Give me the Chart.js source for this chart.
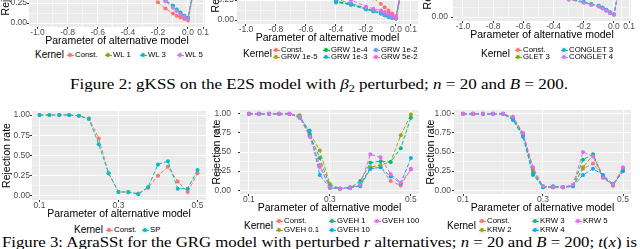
<!DOCTYPE html>
<html lang="en">
<head>
<meta charset="UTF-8">
<title>gKSS / AgraSSt rejection rates</title>
<script src="https://cdn.jsdelivr.net/npm/chart.js"></script>
<style>
  html, body { margin:0; padding:0; background:#fff; }
  body { width:640px; height:249px; position:relative; overflow:hidden; font-family:'Liberation Sans', Arial, sans-serif; }
  .panel { position:absolute; }
  .panel canvas { display:block; }
  .lg { position:absolute; white-space:nowrap; line-height:1; color:#000; }
  .lg-title { font-size:10px; }
  .lg-item { font-size:7.8px; }
  .key { position:absolute; width:7px; height:7px; background:#F2F2F2; }
  .key i { position:absolute; left:0; top:3px; width:7px; height:0; border-top:1px dashed; }
  .key b { position:absolute; left:1.5px; top:1.5px; width:4px; height:4px; border-radius:50%; }
  .cap { position:absolute; white-space:nowrap; font-family:'Liberation Serif', serif; font-size:14px; line-height:1; color:#000; transform-origin:0 50%; }
  .cap .sub { font-size:10px; vertical-align:-3px; }
</style>
</head>
<body>
<script>
// ---- data: Figure 2 (top, x = parameter of alternative model) ----
const xTop = [-1.0, -0.9, -0.8, -0.7, -0.6, -0.5, -0.4, -0.3, -0.2, -0.15, -0.1, -0.075, -0.05, -0.025, 0.0, 0.1];

const wlLabels = ['Const.', 'WL 1', 'WL 3', 'WL 5'];
const wlConst = [1, 1, 1, 1, 1, 0.98, 0.85, 0.45, 0.26, 0.18, 0.12, 0.09, 0.07, 0.05, 0.03, 1.0];
const wl1     = [1, 1, 1, 1, 1, 0.99, 0.92, 0.60, 0.38, 0.28, 0.21, 0.16, 0.12, 0.09, 0.06, 1.0];
const wl3     = [1, 1, 1, 1, 1, 0.99, 0.93, 0.62, 0.40, 0.29, 0.22, 0.17, 0.13, 0.09, 0.07, 1.0];
const wl5     = [1, 1, 1, 1, 1, 0.99, 0.90, 0.58, 0.36, 0.27, 0.19, 0.15, 0.11, 0.08, 0.05, 1.0];

const grwLabels = ['Const.', 'GRW 1e-5', 'GRW 1e-4', 'GRW 1e-3', 'GRW 1e-2', 'GRW 5e-2'];
const grwConst = [1, 1, 1, 1, 0.98, 0.85, 0.60, 0.48, 0.36, 0.27, 0.20, 0.16, 0.12, 0.08, 0.05, 1.0];
const grw1e5   = [1, 1, 1, 0.98, 0.90, 0.60, 0.24, 0.19, 0.14, 0.12, 0.09, 0.07, 0.05, 0.03, 0.02, 1.0];
const grw1e4   = [1, 1, 1, 0.98, 0.90, 0.60, 0.23, 0.20, 0.14, 0.11, 0.08, 0.06, 0.04, 0.03, 0.02, 1.0];
const grw1e3   = [1, 1, 1, 0.97, 0.88, 0.58, 0.22, 0.19, 0.13, 0.11, 0.08, 0.06, 0.04, 0.025, 0.02, 1.0];
const grw1e2   = [1, 1, 1, 0.98, 0.90, 0.62, 0.26, 0.21, 0.15, 0.12, 0.09, 0.07, 0.05, 0.03, 0.02, 1.0];
const grw5e2   = [1, 1, 1, 1, 0.97, 0.80, 0.38, 0.25, 0.17, 0.14, 0.12, 0.10, 0.08, 0.06, 0.03, 1.0];

const gletLabels = ['Const.', 'GLET 3', 'CONGLET 3', 'CONGLET 4'];
const gletConst = [1, 1, 1, 1, 0.99, 0.90, 0.45, 0.23, 0.18, 0.16, 0.14, 0.11, 0.08, 0.05, 0.03, 1.0];
const glet3     = [1, 1, 1, 1, 0.99, 0.90, 0.44, 0.22, 0.18, 0.16, 0.13, 0.11, 0.08, 0.05, 0.03, 1.0];
const conglet3  = [1, 1, 1, 1, 0.99, 0.89, 0.44, 0.23, 0.19, 0.16, 0.14, 0.12, 0.09, 0.06, 0.03, 1.0];
const conglet4  = [1, 1, 1, 1, 0.99, 0.89, 0.43, 0.22, 0.18, 0.15, 0.13, 0.11, 0.08, 0.05, 0.03, 1.0];

// ---- data: Figure 3 (bottom, x = r) ----
const xBot = [0.1, 0.125, 0.15, 0.175, 0.2, 0.225, 0.25, 0.275, 0.3, 0.325, 0.35, 0.375, 0.4, 0.425, 0.45, 0.475, 0.5];

const spLabels = ['Const.', 'SP'];
const spConst = [1, 1, 1, 1, 0.99, 0.96, 0.71, 0.28, 0.05, 0.045, 0.03, 0.10, 0.25, 0.36, 0.18, 0.05, 0.28];
const sp      = [1, 1, 1, 1, 0.99, 0.95, 0.64, 0.28, 0.05, 0.05, 0.02, 0.11, 0.39, 0.43, 0.09, 0.09, 0.32];

const gvehLabels = ['Const.', 'GVEH 0.1', 'GVEH 1', 'GVEH 10', 'GVEH 100'];
const gvehConst = [1, 1, 1, 1, 1, 0.96, 0.72, 0.33, 0.04, 0.02, 0.03, 0.07, 0.28, 0.30, 0.12, 0.06, 0.28];
const gveh01    = [1, 1, 1, 1, 1, 0.98, 0.75, 0.52, 0.08, 0.02, 0.03, 0.07, 0.30, 0.33, 0.37, 0.72, 0.99];
const gveh1     = [1, 1, 1, 1, 1, 0.96, 0.73, 0.42, 0.05, 0.02, 0.03, 0.12, 0.36, 0.38, 0.37, 0.55, 0.95];
const gveh10    = [1, 1, 1, 1, 1, 0.95, 0.78, 0.20, 0.03, 0.02, 0.04, 0.05, 0.28, 0.30, 0.18, 0.09, 0.42];
const gveh100   = [1, 1, 1, 1, 1, 0.96, 0.70, 0.30, 0.04, 0.02, 0.03, 0.07, 0.47, 0.43, 0.21, 0.10, 0.27];

const krwLabels = ['Const.', 'KRW 2', 'KRW 3', 'KRW 4', 'KRW 5'];
const krwConst = [1, 1, 1, 1, 1, 0.95, 0.74, 0.28, 0.04, 0.04, 0.04, 0.05, 0.28, 0.35, 0.18, 0.06, 0.28];
const krw2     = [1, 1, 1, 1, 1, 0.94, 0.73, 0.25, 0.04, 0.04, 0.04, 0.05, 0.30, 0.46, 0.17, 0.06, 0.26];
const krw3     = [1, 1, 1, 1, 1, 0.93, 0.72, 0.22, 0.05, 0.04, 0.04, 0.06, 0.40, 0.47, 0.18, 0.07, 0.25];
const krw4     = [1, 1, 1, 1, 1, 0.92, 0.70, 0.20, 0.04, 0.05, 0.04, 0.05, 0.20, 0.28, 0.20, 0.08, 0.25];
const krw5     = [1, 1, 1, 1, 1, 0.96, 0.75, 0.30, 0.05, 0.04, 0.04, 0.07, 0.50, 0.44, 0.16, 0.07, 0.30];

// ---- ticks ----
const xTicksTop  = [-1, -0.9, -0.8, -0.7, -0.6, -0.5, -0.4, -0.3, -0.2, -0.1, 0, 0.05, 0.1];
const xLabelsTop = ['-1.0', '', '-0.8', '', '-0.6', '', '-0.4', '', '-0.2', '', '0.0', '', '0.1'];
const xTicksBot  = [0.1, 0.2, 0.3, 0.4, 0.5];
const xLabelsBot = ['0.1', '', '0.3', '', '0.5'];
const yTicks  = [0, 0.125, 0.25, 0.375, 0.5, 0.625, 0.75, 0.875, 1];
const yLabels = ['0.00', '', '0.25', '', '0.50', '', '0.75', '', '1.00'];

// ggplot default hues
const hue2 = ['#F8766D', '#00BFC4'];
const hue4 = ['#F8766D', '#7CAE00', '#00BFC4', '#C77CFF'];
const hue5 = ['#F8766D', '#A3A500', '#00BF7D', '#00B0F6', '#E76BF3'];
const hue6 = ['#F8766D', '#B79F00', '#00BA38', '#00BFC4', '#619CFF', '#F564E3'];

Chart.defaults.font.family = "'Liberation Sans', Arial, sans-serif";

const panelBg = {
  id: 'panelBg',
  beforeDraw(c) {
    const a = c.chartArea;
    c.ctx.save();
    c.ctx.fillStyle = '#EBEBEB';
    c.ctx.fillRect(a.left, a.top, a.right - a.left, a.bottom - a.top);
    c.ctx.restore();
  }
};

const isMajor = c => c.tick && c.tick.label !== '';
const TICK_PX = 8.5, TITLE_PX = 10.5;

function panel(p, xs, series, colors, xTicks, xLabels) {
  const padR = 10, axisH = 20;
  const W = p.areaR - p.divL + padR, H = p.areaB - p.areaT + axisH;
  const div = document.createElement('div');
  div.className = 'panel';
  div.style.left = p.divL + 'px';
  div.style.top = p.areaT + 'px';
  div.style.width = W + 'px';
  div.style.height = H + 'px';
  const cv = document.createElement('canvas');
  cv.width = W; cv.height = H;
  div.appendChild(cv);
  document.body.appendChild(div);

  const grid = {
    color: '#FFFFFF',
    lineWidth: c => isMajor(c) ? 1 : 0.5,
    tickLength: 2,
    tickColor: c => isMajor(c) ? '#333333' : 'rgba(0,0,0,0)'
  };

  new Chart(cv, {
    type: 'line',
    data: {
      datasets: series.map((ys, i) => ({
        data: xs.map((x, j) => ({ x: x, y: ys[j] })),
        borderColor: colors[i],
        backgroundColor: colors[i],
        borderWidth: 1,
        borderDash: [4, 2],
        pointRadius: 2,
        pointBorderWidth: 0,
        tension: 0,
        fill: false,
        order: -i
      }))
    },
    options: {
      responsive: false,
      animation: false,
      devicePixelRatio: 1,
      layout: { padding: { left: 0, top: 0, right: padR, bottom: 0 } },
      plugins: { legend: { display: false }, tooltip: { enabled: false } },
      scales: {
        x: {
          type: 'linear', min: p.xmin, max: p.xmax,
          afterBuildTicks: s => { s.ticks = xTicks.map(v => ({ value: v })); },
          afterFit: s => { s.height = axisH; s.paddingLeft = 0; s.paddingRight = 0; },
          ticks: {
            autoSkip: false, maxRotation: 0, padding: -1.5, color: '#4D4D4D', font: { size: TICK_PX },
            callback: (v, i) => xLabels[i]
          },
          grid: grid,
          border: { display: false },
          title: { display: true, text: 'Parameter of alternative model', color: '#000', font: { size: TITLE_PX }, padding: 0 }
        },
        y: {
          type: 'linear', min: -0.05, max: 1.05,
          afterBuildTicks: s => { s.ticks = yTicks.map(v => ({ value: v })); },
          afterFit: s => { s.width = p.areaL - p.divL; s.paddingTop = 0; s.paddingBottom = 0; },
          ticks: {
            autoSkip: false, padding: p.areaL - 2 - p.labR, color: '#4D4D4D', font: { size: TICK_PX },
            callback: (v, i) => yLabels[i]
          },
          grid: grid,
          border: { display: false },
          title: { display: true, text: 'Rejection rate', color: '#000', font: { size: TITLE_PX },
                   padding: { top: p.titleX - p.divL - TITLE_PX * 0.6, bottom: 0 } }
        }
      }
    },
    plugins: [panelBg]
  });
}

function legend(spec, labels, colors) {
  const t = document.createElement('div');
  t.className = 'lg lg-title';
  t.textContent = 'Kernel';
  t.style.left = spec.tx + 'px';
  t.style.top = (spec.ty - 5) + 'px';
  document.body.appendChild(t);
  const nr = spec.rows.length;
  labels.forEach((lab, i) => {
    const x = spec.cols[Math.floor(i / nr)], y = spec.rows[i % nr];
    const k = document.createElement('div');
    k.className = 'key';
    k.style.left = (x - 3.5) + 'px';
    k.style.top = (y - 3.5) + 'px';
    k.innerHTML = '<i style="border-color:' + colors[i] + '"></i><b style="background:' + colors[i] + '"></b>';
    document.body.appendChild(k);
    const s = document.createElement('div');
    s.className = 'lg lg-item';
    s.textContent = lab;
    s.style.left = (x + 5) + 'px';
    s.style.top = (y - 3.9) + 'px';
    document.body.appendChild(s);
  });
}

function caption(html, x, yc, w) {
  const d = document.createElement('div');
  d.className = 'cap';
  d.innerHTML = html;
  d.style.left = x + 'px';
  d.style.top = (yc - 7) + 'px';
  document.body.appendChild(d);
  const r = d.getBoundingClientRect().width;
  d.style.transform = 'scaleX(' + (w / r) + ')';
}

// ---- Figure 2 panels (mostly above the crop) ----
panel({ divL: -1,  titleX: 6.5, labR: 27,  areaL: 29,  areaR: 205, areaT: -65, areaB: 27, xmin: -1.0565, xmax: 0.113 },
      xTop, [wlConst, wl1, wl3, wl5], hue4, xTicksTop, xLabelsTop);
panel({ divL: 208, titleX: 216, labR: 234, areaL: 237, areaR: 418, areaT: -68, areaB: 24, xmin: -1.06, xmax: 0.147 },
      xTop, [grwConst, grw1e5, grw1e4, grw1e3, grw1e2, grw5e2], hue6, xTicksTop, xLabelsTop);
panel({ divL: 421, titleX: 428.5, labR: 448, areaL: 453, areaR: 631, areaT: -71, areaB: 21, xmin: -1.066, xmax: 0.113 },
      xTop, [gletConst, glet3, conglet3, conglet4], hue4, xTicksTop, xLabelsTop);

legend({ tx: 35, ty: 55, rows: [55], cols: [70, 108, 143, 180] }, wlLabels, hue4);
legend({ tx: 243, ty: 53.5, rows: [50, 57], cols: [276, 326, 376] }, grwLabels, hue6);
legend({ tx: 481, ty: 53.5, rows: [50, 57], cols: [518, 564] }, gletLabels, hue4);

caption('Figure 2: gKSS on the E2S model with <i>β</i><span class="sub">2</span> perturbed; <i>n</i> = 20 and <i>B</i> = 200.', 70, 85, 498);

// ---- Figure 3 panels ----
panel({ divL: 0,   titleX: 7.5, labR: 30,  areaL: 32,  areaR: 206, areaT: 107, areaB: 200, xmin: 0.081, xmax: 0.5215 },
      xBot, [spConst, sp], hue2, xTicksBot, xLabelsBot);
panel({ divL: 210, titleX: 217.5, labR: 231, areaL: 240, areaR: 419, areaT: 106, areaB: 194, xmin: 0.078, xmax: 0.52 },
      xBot, [gvehConst, gveh01, gveh1, gveh10, gveh100], hue5, xTicksBot, xLabelsBot);
panel({ divL: 423, titleX: 431, labR: 451, areaL: 454, areaR: 631, areaT: 106, areaB: 194, xmin: 0.0775, xmax: 0.52 },
      xBot, [krwConst, krw2, krw3, krw4, krw5], hue5, xTicksBot, xLabelsBot);

legend({ tx: 74, ty: 230, rows: [230], cols: [109, 145] }, spLabels, hue2);
legend({ tx: 244, ty: 226, rows: [221, 230], cols: [279, 332, 377] }, gvehLabels, hue5);
legend({ tx: 447, ty: 226, rows: [221, 230], cols: [482, 535, 578] }, krwLabels, hue5);

caption('Figure 3: AgraSSt for the GRG model with perturbed <i>r</i> alternatives; <i>n</i> = 20 and <i>B</i> = 200; <i>t</i>(<i>x</i>) is', 2, 243, 635);
</script>
</body>
</html>
